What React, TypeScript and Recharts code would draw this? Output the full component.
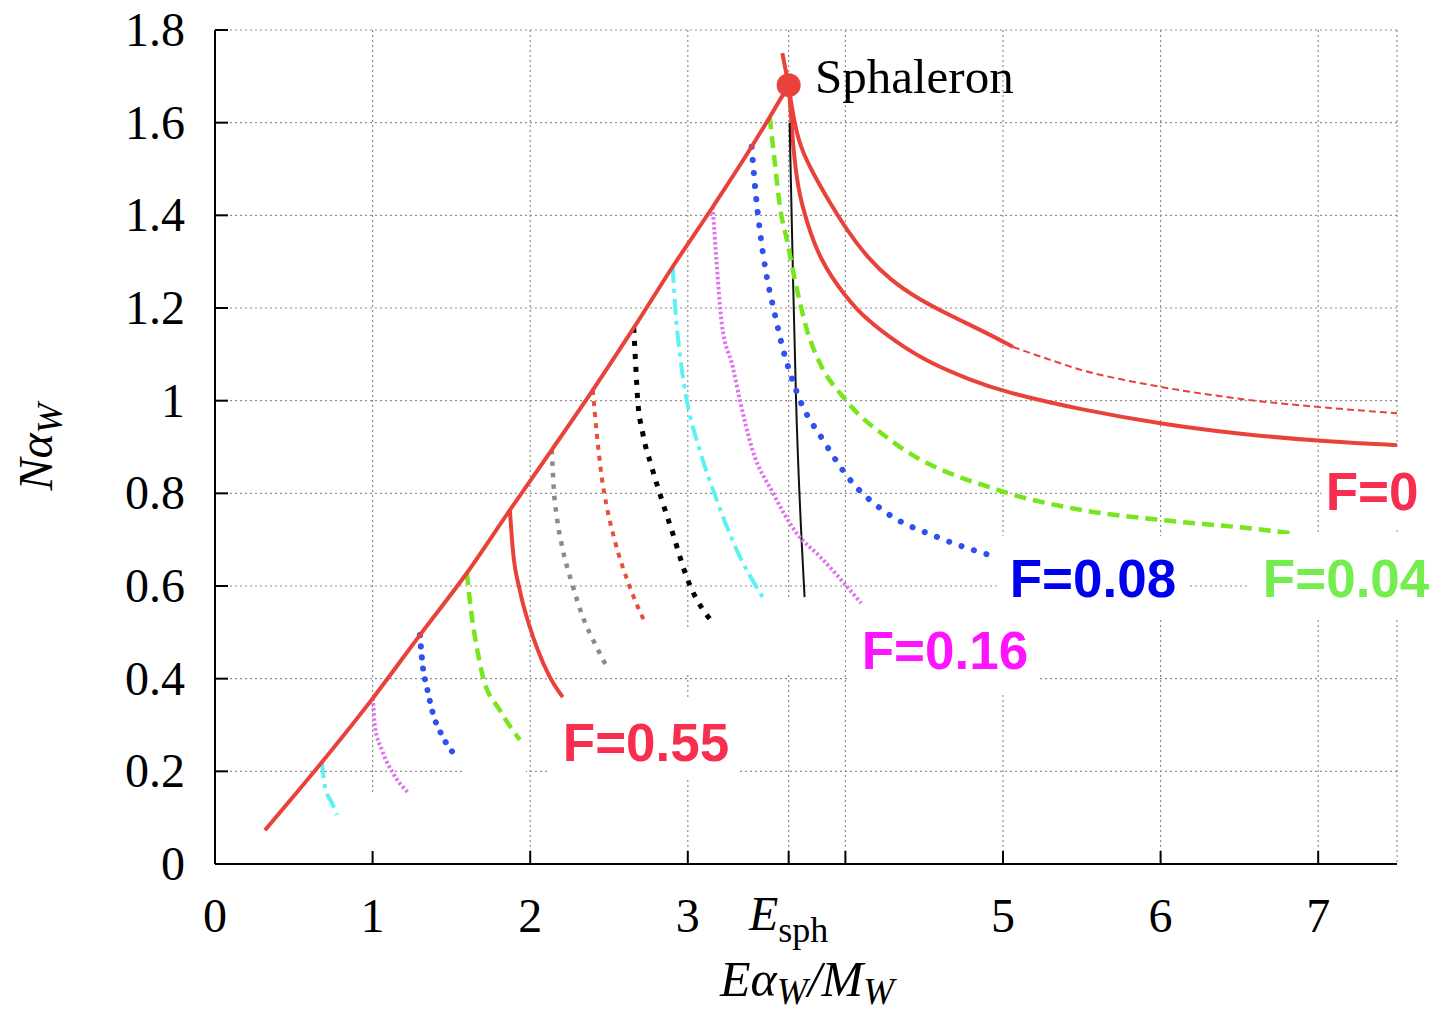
import {
  LineChart,
  Line,
  XAxis,
  YAxis,
  CartesianGrid,
  ReferenceArea,
  ReferenceDot
} from 'recharts';

type Pt = [number, number];

const ESPH = 3.64;
const X_TICKS = [0, 1, 2, 3, ESPH, 4, 5, 6, 7];
const Y_TICKS = [0, 0.2, 0.4, 0.6, 0.8, 1, 1.2, 1.4, 1.6, 1.8];

// boundary branch up to the sphaleron
const boundary: Pt[] = [
  [0.317, 0.073], [0.679, 0.22], [1.002, 0.358], [1.3, 0.494], [1.598, 0.628],
  [1.871, 0.764], [2.137, 0.894], [2.397, 1.023], [2.657, 1.157], [2.904, 1.289],
  [3.158, 1.418], [3.405, 1.548], [3.52, 1.612], [3.64, 1.681]
];
const sphaleron: Pt = [3.64, 1.681];

// F=0, noisy run (first part dense, tail sparse)
const f0NoisyHead: Pt[] = [
  [3.6, 1.75], [3.64, 1.68], [3.67, 1.61], [3.712, 1.548], [3.794, 1.491], [3.902, 1.427],
  [4.01, 1.368], [4.137, 1.31], [4.283, 1.261], [4.473, 1.217], [4.683, 1.181],
  [4.898, 1.146], [5.063, 1.116]
];
const f0NoisyTail: Pt[] = [
  [5.063, 1.116], [5.3, 1.088], [5.5, 1.066], [5.75, 1.046], [6.03, 1.028], [6.55, 1.002],
  [7.08, 0.984], [7.5, 0.973]
];
// F=0, smooth
const f0: Pt[] = [
  [3.64, 1.681], [3.648, 1.649], [3.668, 1.548], [3.699, 1.455], [3.756, 1.384],
  [3.838, 1.304], [4.004, 1.222], [4.137, 1.174], [4.327, 1.125], [4.537, 1.081],
  [4.791, 1.045], [5.006, 1.019], [5.5, 0.98], [6.03, 0.948], [6.55, 0.926],
  [7.08, 0.911], [7.5, 0.904]
];
const esphLine: Pt[] = [[3.646, 1.6], [3.668, 1.26], [3.687, 1.0], [3.722, 0.699], [3.741, 0.576]];

const f004: Pt[] = [
  [3.52, 1.612], [3.55, 1.52], [3.585, 1.418], [3.63, 1.345], [3.68, 1.26], [3.756, 1.153],
  [3.838, 1.081], [3.985, 1.008], [4.31, 0.909], [4.97, 0.807], [5.5, 0.764],
  [6.02, 0.742], [6.55, 0.725], [6.83, 0.714]
];
const f008: Pt[] = [
  [3.405, 1.548], [3.43, 1.45], [3.46, 1.36], [3.5, 1.27], [3.55, 1.19], [3.59, 1.13],
  [3.693, 1.017], [3.87, 0.909], [4.03, 0.829], [4.26, 0.758], [4.58, 0.706], [4.95, 0.663]
];
const f016: Pt[] = [
  [3.158, 1.418], [3.183, 1.297], [3.215, 1.168], [3.285, 1.073], [3.33, 1.002],
  [3.41, 0.894], [3.54, 0.801], [3.69, 0.714], [3.84, 0.663], [4.1, 0.563]
];
const fCyan: Pt[] = [
  [2.904, 1.289], [2.917, 1.217], [2.96, 1.073], [2.993, 1.002], [3.075, 0.894],
  [3.183, 0.786], [3.31, 0.678], [3.475, 0.576]
];
const fBlack: Pt[] = [
  [2.657, 1.157], [2.67, 1.073], [2.682, 1.002], [2.714, 0.93], [2.771, 0.857],
  [2.835, 0.786], [2.904, 0.714], [2.993, 0.619], [3.17, 0.516]
];
const fTomato: Pt[] = [
  [2.397, 1.023], [2.422, 0.93], [2.454, 0.835], [2.486, 0.771], [2.536, 0.699],
  [2.632, 0.598], [2.727, 0.522]
];
const fGray: Pt[] = [
  [2.137, 0.894], [2.15, 0.807], [2.169, 0.749], [2.207, 0.678], [2.264, 0.607],
  [2.334, 0.533], [2.422, 0.468], [2.486, 0.425]
];
const f055: Pt[] = [
  [1.871, 0.764], [1.89, 0.678], [1.934, 0.591], [1.997, 0.512], [2.048, 0.462],
  [2.124, 0.404], [2.207, 0.36]
];
const fGreenLow: Pt[] = [[1.598, 0.628], [1.63, 0.533], [1.661, 0.468], [1.7, 0.404], [1.807, 0.332], [1.934, 0.268]];
const fBlueLow: Pt[] = [[1.3, 0.494], [1.319, 0.425], [1.344, 0.382], [1.382, 0.326], [1.446, 0.274], [1.522, 0.235]];
const fMagentaLow: Pt[] = [[1.002, 0.358], [1.015, 0.296], [1.059, 0.246], [1.129, 0.196], [1.224, 0.155]];
const fCyanLow: Pt[] = [[0.679, 0.22], [0.698, 0.166], [0.742, 0.132], [0.774, 0.106]];

const pts = (a: Pt[]) => a.map(([x, y]) => ({ x, y }));

const SERIF = '"Liberation Serif", "Times New Roman", serif';
const SANS = '"Liberation Sans", Arial, sans-serif';
const RED = '#e8423a';

const curve = (
  key: string,
  data: Pt[],
  stroke: string,
  width: number,
  dash?: string,
  cap: 'butt' | 'round' = 'butt',
  kind: 'monotone' | 'basis' = 'monotone'
) => (
  <Line
    key={key}
    data={pts(data)}
    dataKey="y"
    type={kind}
    stroke={stroke}
    strokeWidth={width}
    strokeDasharray={dash}
    strokeLinecap={cap}
    dot={false}
    activeDot={false}
    isAnimationActive={false}
  />
);

const BottomTick = (props: any) => {
  const { x, y, payload } = props;
  const v = payload.value;
  let label = null;
  if (v === ESPH) {
    label = (
      <text x={x} y={y + 66} textAnchor="middle" fontFamily={SERIF} fontSize={48} fill="#000">
        <tspan fontStyle="italic">E</tspan>
        <tspan fontSize={36} dy={12}>sph</tspan>
      </text>
    );
  } else if (v !== 4) {
    label = (
      <text x={x} y={y + 68} textAnchor="middle" fontFamily={SERIF} fontSize={48} fill="#000">{v}</text>
    );
  }
  return (
    <g>
      <line x1={x} y1={y} x2={x} y2={y - 13} stroke="#000" strokeWidth={2} />
      {label}
    </g>
  );
};

const LeftTick = (props: any) => {
  const { x, y, payload } = props;
  return (
    <g>
      <line x1={x} y1={y} x2={x + 13} y2={y} stroke="#000" strokeWidth={2} />
      <text x={x - 30} y={y + 16} textAnchor="end" fontFamily={SERIF} fontSize={48} fill="#000">{payload.value}</text>
    </g>
  );
};

const TopTick = (props: any) => {
  const { x, y } = props;
  return <line x1={x} y1={y} x2={x} y2={y + 13} stroke="#000" strokeWidth={2} />;
};

const RightTick = (props: any) => {
  const { x, y } = props;
  return <line x1={x} y1={y} x2={x - 13} y2={y} stroke="#000" strokeWidth={2} />;
};

const labels = [
  { text: 'F=0', x: 7.342, y: 0.805, color: '#f82e4e' },
  { text: 'F=0.04', x: 7.177, y: 0.617, color: '#74ee4e' },
  { text: 'F=0.08', x: 5.571, y: 0.617, color: '#0000f0' },
  { text: 'F=0.16', x: 4.632, y: 0.462, color: '#ff14ff' },
  { text: 'F=0.55', x: 2.735, y: 0.263, color: '#f82e4e' }
];

export default function App() {
  return (
    <div style={{ position: 'absolute', left: 0, top: 0, background: '#fff' }}>
      <LineChart width={1433} height={1016} margin={{ top: 30, right: 36, bottom: 0, left: 0 }}>
        <CartesianGrid stroke="#8e8e8e" strokeDasharray="2 3" strokeWidth={1.2} />
        <XAxis
          type="number"
          dataKey="x"
          domain={[0, 7.5]}
          allowDataOverflow
          ticks={X_TICKS}
          interval={0}
          height={152}
          tickSize={0}
          tickMargin={0}
          tickLine={false}
          tick={<BottomTick />}
          axisLine={{ stroke: '#000', strokeWidth: 2 }}
        />
        <XAxis
          xAxisId="top"
          orientation="top"
          type="number"
          domain={[0, 7.5]}
          allowDataOverflow
          ticks={X_TICKS}
          interval={0}
          height={0}
          tickSize={0}
          tickMargin={0}
          tickLine={false}
          tick={<TopTick />}
          axisLine={{ stroke: '#000', strokeWidth: 2 }}
        />
        <YAxis
          type="number"
          domain={[0, 1.8]}
          allowDataOverflow
          ticks={Y_TICKS}
          interval={0}
          width={215}
          tickSize={0}
          tickMargin={0}
          tickLine={false}
          tick={<LeftTick />}
          axisLine={{ stroke: '#000', strokeWidth: 2 }}
        />
        <YAxis
          yAxisId="right"
          orientation="right"
          type="number"
          domain={[0, 1.8]}
          allowDataOverflow
          ticks={Y_TICKS}
          interval={0}
          width={0}
          tickSize={0}
          tickMargin={0}
          tickLine={false}
          tick={<RightTick />}
          axisLine={{ stroke: '#000', strokeWidth: 2 }}
        />

        {/* white label backgrounds */}
        <ReferenceArea x1={2.113} x2={3.331} y1={0.186} y2={0.36} fill="#fff" fillOpacity={1} ifOverflow="visible" />
        <ReferenceArea x1={1.567} x2={1.973} y1={0.138} y2={0.263} fill="#fff" fillOpacity={1} ifOverflow="visible" />
        <ReferenceArea x1={0.793} x2={1.618} y1={0.013} y2={0.153} fill="#fff" fillOpacity={1} ifOverflow="visible" />
        <ReferenceArea x1={3.204} x2={3.997} y1={0.414} y2={0.574} fill="#fff" fillOpacity={1} ifOverflow="visible" />
        <ReferenceArea x1={2.76} x2={3.185} y1={0.414} y2={0.505} fill="#fff" fillOpacity={1} ifOverflow="visible" />
        <ReferenceArea x1={4.03} x2={5.22} y1={0.371} y2={0.557} fill="#fff" fillOpacity={1} ifOverflow="visible" />
        <ReferenceArea x1={4.96} x2={6.17} y1={0.527} y2={0.708} fill="#fff" fillOpacity={1} ifOverflow="visible" />
        <ReferenceArea x1={6.567} x2={7.73} y1={0.527} y2={0.712} fill="#fff" fillOpacity={1} ifOverflow="visible" zIndex={600} />
        <ReferenceArea x1={7.02} x2={7.73} y1={0.72} y2={0.9} fill="#fff" fillOpacity={1} ifOverflow="visible" zIndex={600} />

        {curve('f0NoisyHead', f0NoisyHead, RED, 4, undefined, 'butt', 'basis')}
        {curve('f0NoisyTail', f0NoisyTail, RED, 2, '7 4')}
        {curve('f0', f0, RED, 4, undefined, 'butt', 'basis')}
        {curve('esph', esphLine, '#111', 2)}
        {curve('f004', f004, '#78e61e', 4.5, '12 7')}
        {curve('f008', f008, '#3050f0', 6, '0.1 13', 'round')}
        {curve('f016', f016, '#e070f0', 4, '2.5 2.5')}
        {curve('cyan', fCyan, '#5cf2f2', 4, '16 6 4 6')}
        {curve('black', fBlack, '#000', 5, '5 8')}
        {curve('tomato', fTomato, '#e8503a', 4, '5 6')}
        {curve('gray', fGray, '#8a8a8a', 4.5, '4.5 7')}
        {curve('f055', f055, RED, 4)}
        {curve('greenLow', fGreenLow, '#78e61e', 4.5, '12 7')}
        {curve('blueLow', fBlueLow, '#3050f0', 6, '0.1 11', 'round')}
        {curve('magentaLow', fMagentaLow, '#e070f0', 4, '2.5 2.5')}
        {curve('cyanLow', fCyanLow, '#5cf2f2', 4, '16 6 4 6')}
        {curve('boundary', boundary, RED, 4)}

        <ReferenceDot x={sphaleron[0]} y={sphaleron[1]} r={12} fill={RED} stroke="none" ifOverflow="visible" />
        <ReferenceDot
          x={3.807}
          y={1.664}
          r={0}
          ifOverflow="visible"
          shape={(p: any) => (
            <text x={p.cx} y={p.cy} fontFamily={SERIF} fontSize={49} fill="#000">Sphaleron</text>
          )}
        />
        {labels.map((l) => (
          <ReferenceDot
            key={l.text}
            x={l.x}
            y={l.y}
            r={0}
            ifOverflow="visible"
            zIndex={700}
            shape={(p: any) => (
              <text x={p.cx} y={p.cy + 19} textAnchor="middle" fontFamily={SANS} fontWeight="bold" fontSize={53} fill={l.color}>
                {l.text}
              </text>
            )}
          />
        ))}

        <text x={807} y={996} textAnchor="middle" fontFamily={SERIF} fontStyle="italic" fontSize={50} fill="#000">
          <tspan>Eα</tspan>
          <tspan fontSize={37} dy={8}>W</tspan>
          <tspan dy={-8}>/M</tspan>
          <tspan fontSize={37} dy={8}>W</tspan>
        </text>
        <text x={52} y={447} transform="rotate(-90 52 447)" textAnchor="middle" fontFamily={SERIF} fontStyle="italic" fontSize={48} fill="#000">
          <tspan>Nα</tspan>
          <tspan fontSize={36} dy={10}>W</tspan>
        </text>
      </LineChart>
    </div>
  );
}
